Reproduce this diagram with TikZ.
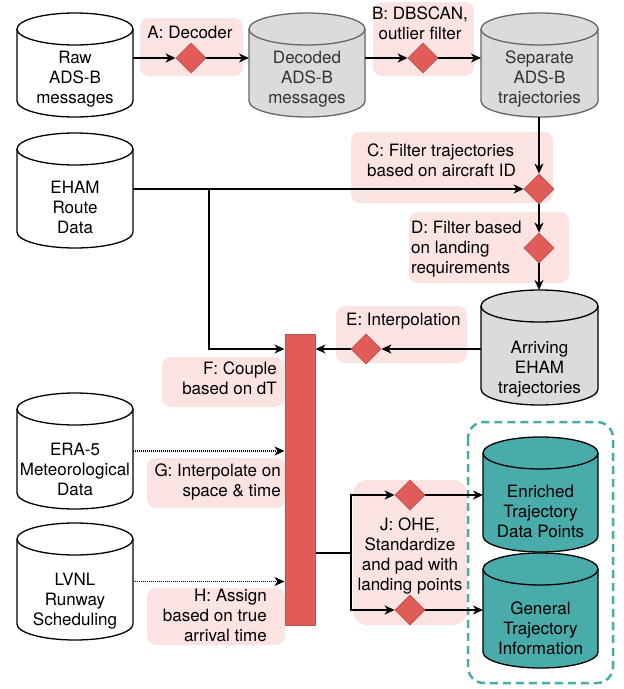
\documentclass[tikz,border=0pt]{standalone}
\usepackage{fontspec}
\setmainfont{TeX Gyre Heros}
\usetikzlibrary{arrows.meta,shapes.geometric,calc}

\definecolor{pinkbg}{HTML}{FBE3E2}
\definecolor{redfill}{HTML}{E15B58}
\definecolor{redline}{HTML}{B85450}
\definecolor{grayfill}{HTML}{DBDBDB}
\definecolor{grayline}{HTML}{666666}
\definecolor{graytext}{HTML}{333333}
\definecolor{tealfill}{HTML}{4AABAB}

\tikzset{
  txt/.style={font=\fontsize{17}{20}\selectfont, inner sep=0pt,
    execute at begin node=\strut, execute at end node=\strut},
  cylbox/.style={shape=rectangle, inner sep=0pt, outer sep=0pt},
  cylwhite/.style={fill=white, draw=black, line width=1.3pt},
  cylgray/.style={fill=grayfill, draw=grayline, line width=1.3pt},
  cylgrayk/.style={fill=grayfill, draw=black, line width=1.3pt},
  cylteal/.style={fill=tealfill, draw=black, line width=1.3pt},
  labelbg/.style={fill=pinkbg, rounded corners=9pt},
  dia/.style={diamond, aspect=1, fill=redfill, draw=redline, line width=0.8pt,
    minimum width=30pt, minimum height=30pt, inner sep=0pt},
  conn/.style={line width=1.3pt, -{Stealth[length=10pt,width=9pt,inset=3pt]}},
  plain/.style={line width=1.3pt},
  dots/.style={line width=1.3pt, dash pattern=on 1pt off 1pt,
    -{Stealth[length=10pt,width=9pt,inset=3pt]}},
}

% database cylinder: style, centre x, centre y, width, height
\newcommand\dbcyl[5]{%
  \begin{scope}[shift={(#2,#3)}, x=1pt, y=1pt]
    \path[#1] (-#4/2,#5/2-16) arc[start angle=180,end angle=0,x radius=#4/2,y radius=16]
      -- (#4/2,-#5/2+16) arc[start angle=0,end angle=-180,x radius=#4/2,y radius=16] -- cycle;
    \draw[#1,fill=none] (-#4/2,#5/2-16) arc[start angle=180,end angle=360,x radius=#4/2,y radius=16];
  \end{scope}}

% named database: name, cylinder style, text colour, cx, cy, w, h, text, text y
\newcommand\dbnode[9]{%
  \dbcyl{#2}{#4}{#5}{#6}{#7}
  \node[cylbox, minimum width=#6pt, minimum height=#7pt] (#1) at (#4,#5) {};
  \node[txt, align=center, text=#3] (#1-t) at (#4,#9) {#8};
}

\begin{document}
\begin{tikzpicture}[x=1pt,y=-1pt]
\useasboundingbox (0,0) rectangle (624,689);

% label backgrounds
\fill[labelbg] (140,18) rectangle (243,76);
\fill[labelbg] (373,2) rectangle (474,76);
\fill[labelbg] (351,132) rectangle (553,203);
\fill[labelbg] (409,212) rectangle (569,283);
\fill[labelbg] (336,306) rectangle (467,363);
\fill[labelbg] (162,357) rectangle (284,407);
\fill[labelbg] (147,458) rectangle (285,508);
\fill[labelbg] (147,588) rectangle (285,645);
\fill[labelbg, rounded corners=14pt] (353,480) rectangle (467,625);

% output group
\draw[tealfill, line width=2.5pt, dash pattern=on 8pt off 5pt, rounded corners=16pt]
  (468,422) rectangle (613,683);

% data stores
\dbnode{raw}{cylwhite}{black}{75}{65}{116}{104}{Raw\\ADS-B\\messages}{80}
\dbnode{dec}{cylgray}{graytext}{307}{65}{116}{104}{Decoded\\ADS-B\\messages}{80}
\dbnode{sep}{cylgray}{graytext}{539.5}{65}{117}{104}{Separate\\ADS-B\\trajectories}{80}
\dbnode{eham}{cylwhite}{black}{75}{190.5}{116}{115}{EHAM\\Route\\Data}{210}
\dbnode{arr}{cylgrayk}{black}{539.5}{347.5}{117}{115}{Arriving\\EHAM\\trajectories}{370}
\dbnode{era}{cylwhite}{black}{75}{451}{116}{116}{ERA-5\\Meteorological\\Data}{472}
\dbnode{lvnl}{cylwhite}{black}{75}{581.5}{116}{117}{LVNL\\Runway\\Scheduling}{602}
\dbnode{enr}{cylteal}{black}{540.5}{494.5}{115}{115}{Enriched\\Trajectory\\Data Points}{514}
\dbnode{gen}{cylteal}{black}{540.5}{610.5}{115}{115}{General\\Trajectory\\Information}{631}

% coupling bar
\node[fill=redfill, draw=redline, line width=1pt, inner sep=0pt,
  minimum width=30pt, minimum height=291pt] (bar) at (300,479.5) {};

% processing steps
\node[dia] (dA) at (191,58) {};
\node[dia] (dB) at (423,58) {};
\node[dia] (dC) at (539,189) {};
\node[dia] (dD) at (539,248) {};
\node[dia] (dE) at (366,349) {};
\node[dia] (dJ1) at (410,495) {};
\node[dia] (dJ2) at (410,610) {};

\coordinate (brx) at (209,0);
\coordinate (jx) at (351,553);

% connectors
\draw[conn] (dA -| raw.east) -- (dA.west);
\draw[conn] (dA.east) -- (dA -| dec.west);
\draw[conn] (dB -| dec.east) -- (dB.west);
\draw[conn] (dB.east) -- (dB -| sep.west);
\draw[conn] (dC |- sep.south) -- (dC.north);
\draw[conn] (dC -| eham.east) -- (dC.west);
\draw[conn] (brx |- dC) |- (dE -| bar.west);
\draw[conn] (dC.south) -- (dD.north);
\draw[conn] (dD.south) -- (dD |- arr.north);
\draw[conn] (dE -| arr.west) -- (dE.east);
\draw[conn] (dE.west) -- (dE -| bar.east);
\draw[dots] (era.east) -- (era.east -| bar.west);
\draw[dots] (lvnl.east) -- (lvnl.east -| bar.west);
\draw[plain] (jx -| bar.east) -- (jx);
\draw[conn] (jx) |- (dJ1.west);
\draw[conn] (jx) |- (dJ2.west);
\draw[conn] (dJ1.east) -- (dJ1 -| enr.west);
\draw[conn] (dJ2.east) -- (dJ2 -| gen.west);

% step labels
\node[txt] (tA) at (190,34) {A: Decoder};
\node[txt, align=center] (tB) at (420,26) {B: DBSCAN,\\outlier filter};
\node[txt, align=left, anchor=west] (tC) at (367,163.5) {C: Filter trajectories\\based on aircraft ID};
\node[txt, align=left, anchor=west] (tD) at (411,250) {D: Filter based\\on landing\\requirements};
\node[txt, anchor=west] (tE) at (346,321) {E: Interpolation};
\node[txt, align=right, anchor=east] (tF) at (277,381) {F: Couple\\based on dT};
\node[txt, align=right, anchor=east] (tG) at (281,483.5) {G: Interpolate on\\space \& time};
\node[txt, align=right, anchor=east] (tH) at (267,618) {H: Assign\\based on true\hspace*{5pt}\\arrival time};
\node[txt, align=center] (tJ) at (410,557) {J: OHE,\\Standardize\\and pad with\\landing points};
\end{tikzpicture}
\end{document}
